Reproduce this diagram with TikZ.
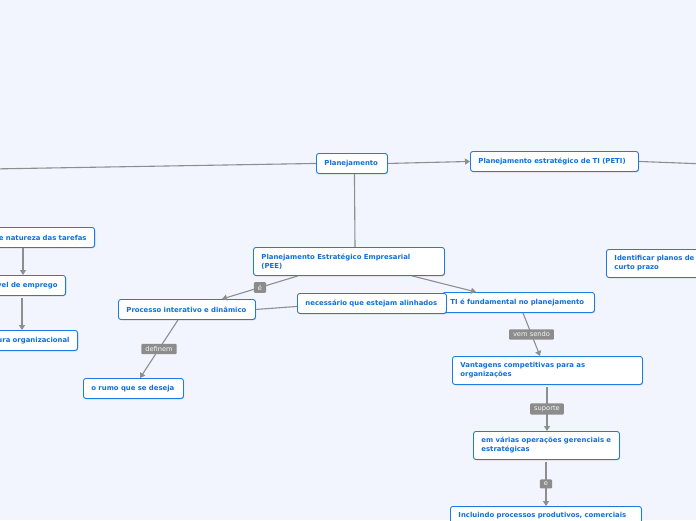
\documentclass[tikz,border=0pt]{standalone}
\usepackage{fontspec}
\setmainfont{DejaVu Sans}
\usetikzlibrary{arrows.meta,calc,shadows}
\definecolor{bg}{HTML}{F2F5FD}
\definecolor{nodeblue}{HTML}{1C7CE0}
\definecolor{txtblue}{HTML}{1070D8}
\definecolor{edgegray}{HTML}{8E8E8E}
\definecolor{lblgray}{HTML}{8C8C8C}
\begin{document}
\begin{tikzpicture}[x=1pt,y=-1pt,
  box/.style={draw=nodeblue, fill=white, rounded corners=2.5pt, line width=0.9pt,
    font=\fontsize{6.9}{9}\selectfont\bfseries, text=txtblue, align=left,
    inner xsep=8pt, inner ysep=0pt, minimum height=20pt, anchor=north west,
    drop shadow={shadow xshift=0.6pt, shadow yshift=-0.8pt, opacity=0.3, fill=black!60}},
  tall/.style={minimum height=28pt},
  ln/.style={draw=edgegray, line width=1.1pt},
  ar/.style={ln, -{Triangle[length=5pt,width=6pt]}},
  lbl/.style={fill=lblgray, text=white!92!gray, font=\fontsize{6.7}{7}\selectfont,
    rounded corners=1pt, inner xsep=4pt, inner ysep=2.6pt}]
\useasboundingbox (0,0) rectangle (696,520);
\fill[bg] (0,0) rectangle (696,520);
\clip (0,0) rectangle (696,520);

% nodes
\node[box, text width=55pt] (plan) at (316,153) {Planejamento};
\node[box, text width=152pt] (peti) at (470,151) {Planejamento estratégico de TI (PETI)};
\node[box, tall, text width=175pt] (pee) at (253,247) {Planejamento Estratégico Empresarial\\(PEE)};
\node[box, text width=121pt] (proc) at (118,299) {Processo interativo e dinâmico};
\node[box, text width=136pt] (ti) at (442,292) {TI é fundamental no planejamento};
\node[box, text width=133pt] (nec) at (297,293) {necessário que estejam alinhados};
\node[box, text width=84pt] (rumo) at (83,378) {o rumo que se deseja};
\node[box, tall, text width=174pt] (vant) at (452,356) {Vantagens competitivas para as\\organizações};
\node[box, tall, text width=130pt] (ops) at (473,431) {em várias operações gerenciais e\\estratégicas};
\node[box, tall, text width=175pt, text depth=10.5pt] (incl) at (450,506) {Incluindo processos produtivos, comerciais};
\node[box, tall, text width=110pt] (ident) at (606,249) {Identificar planos de\\curto prazo};
\node[box, anchor=north east, text width=120pt, align=right] (nat) at (95,227) {e natureza das tarefas};
\node[box, anchor=north east, text width=100pt, align=right] (emp) at (66,275) {vel de emprego};
\node[box, anchor=north east, text width=110pt, align=right] (org) at (78,330) {ura organizacional};

\coordinate (farL) at (-10,169);
\coordinate (farR) at (706,164);

% connectors
\draw[ln] (plan.west) -- (farL);
\draw[ar] (plan.east) -- (peti.west);
\draw[ln] (peti.east) -- (farR);
\draw[ln] ($(plan.south)+(2.5,0)$) -- ($(pee.north west)+(102,0)$);
\draw[ar] ($(pee.south west)+(45,0)$) -- node[lbl]{é} ($(proc.north west)+(104,0)$);
\draw[ln] (proc.east) -- ($(nec.west)+(0,3)$);
\draw[ar] ($(pee.south west)+(159,0)$) -- ($(ti.north west)+(34,0)$);
\draw[ar] ($(proc.south west)+(60,0)$) -- node[lbl]{definem} ($(rumo.north west)+(57,0)$);
\draw[ar] ($(ti.south west)+(81,0)$) -- node[lbl]{vem sendo} ($(vant.north west)+(88,0)$);
\draw[ar] ($(vant.south west)+(95,2)$) -- node[lbl]{suporte} ($(ops.north west)+(74,0)$);
\draw[ar] ($(ops.south west)+(73,2)$) -- node[lbl]{e} ($(incl.north west)+(96,0)$);
\draw[ar] ($(nat.south east)+(-72,0)$) -- ($(emp.north east)+(-43,0)$);
\draw[ar] ($(emp.south east)+(-44,2)$) -- ($(org.north east)+(-56,0)$);
\end{tikzpicture}
\end{document}
